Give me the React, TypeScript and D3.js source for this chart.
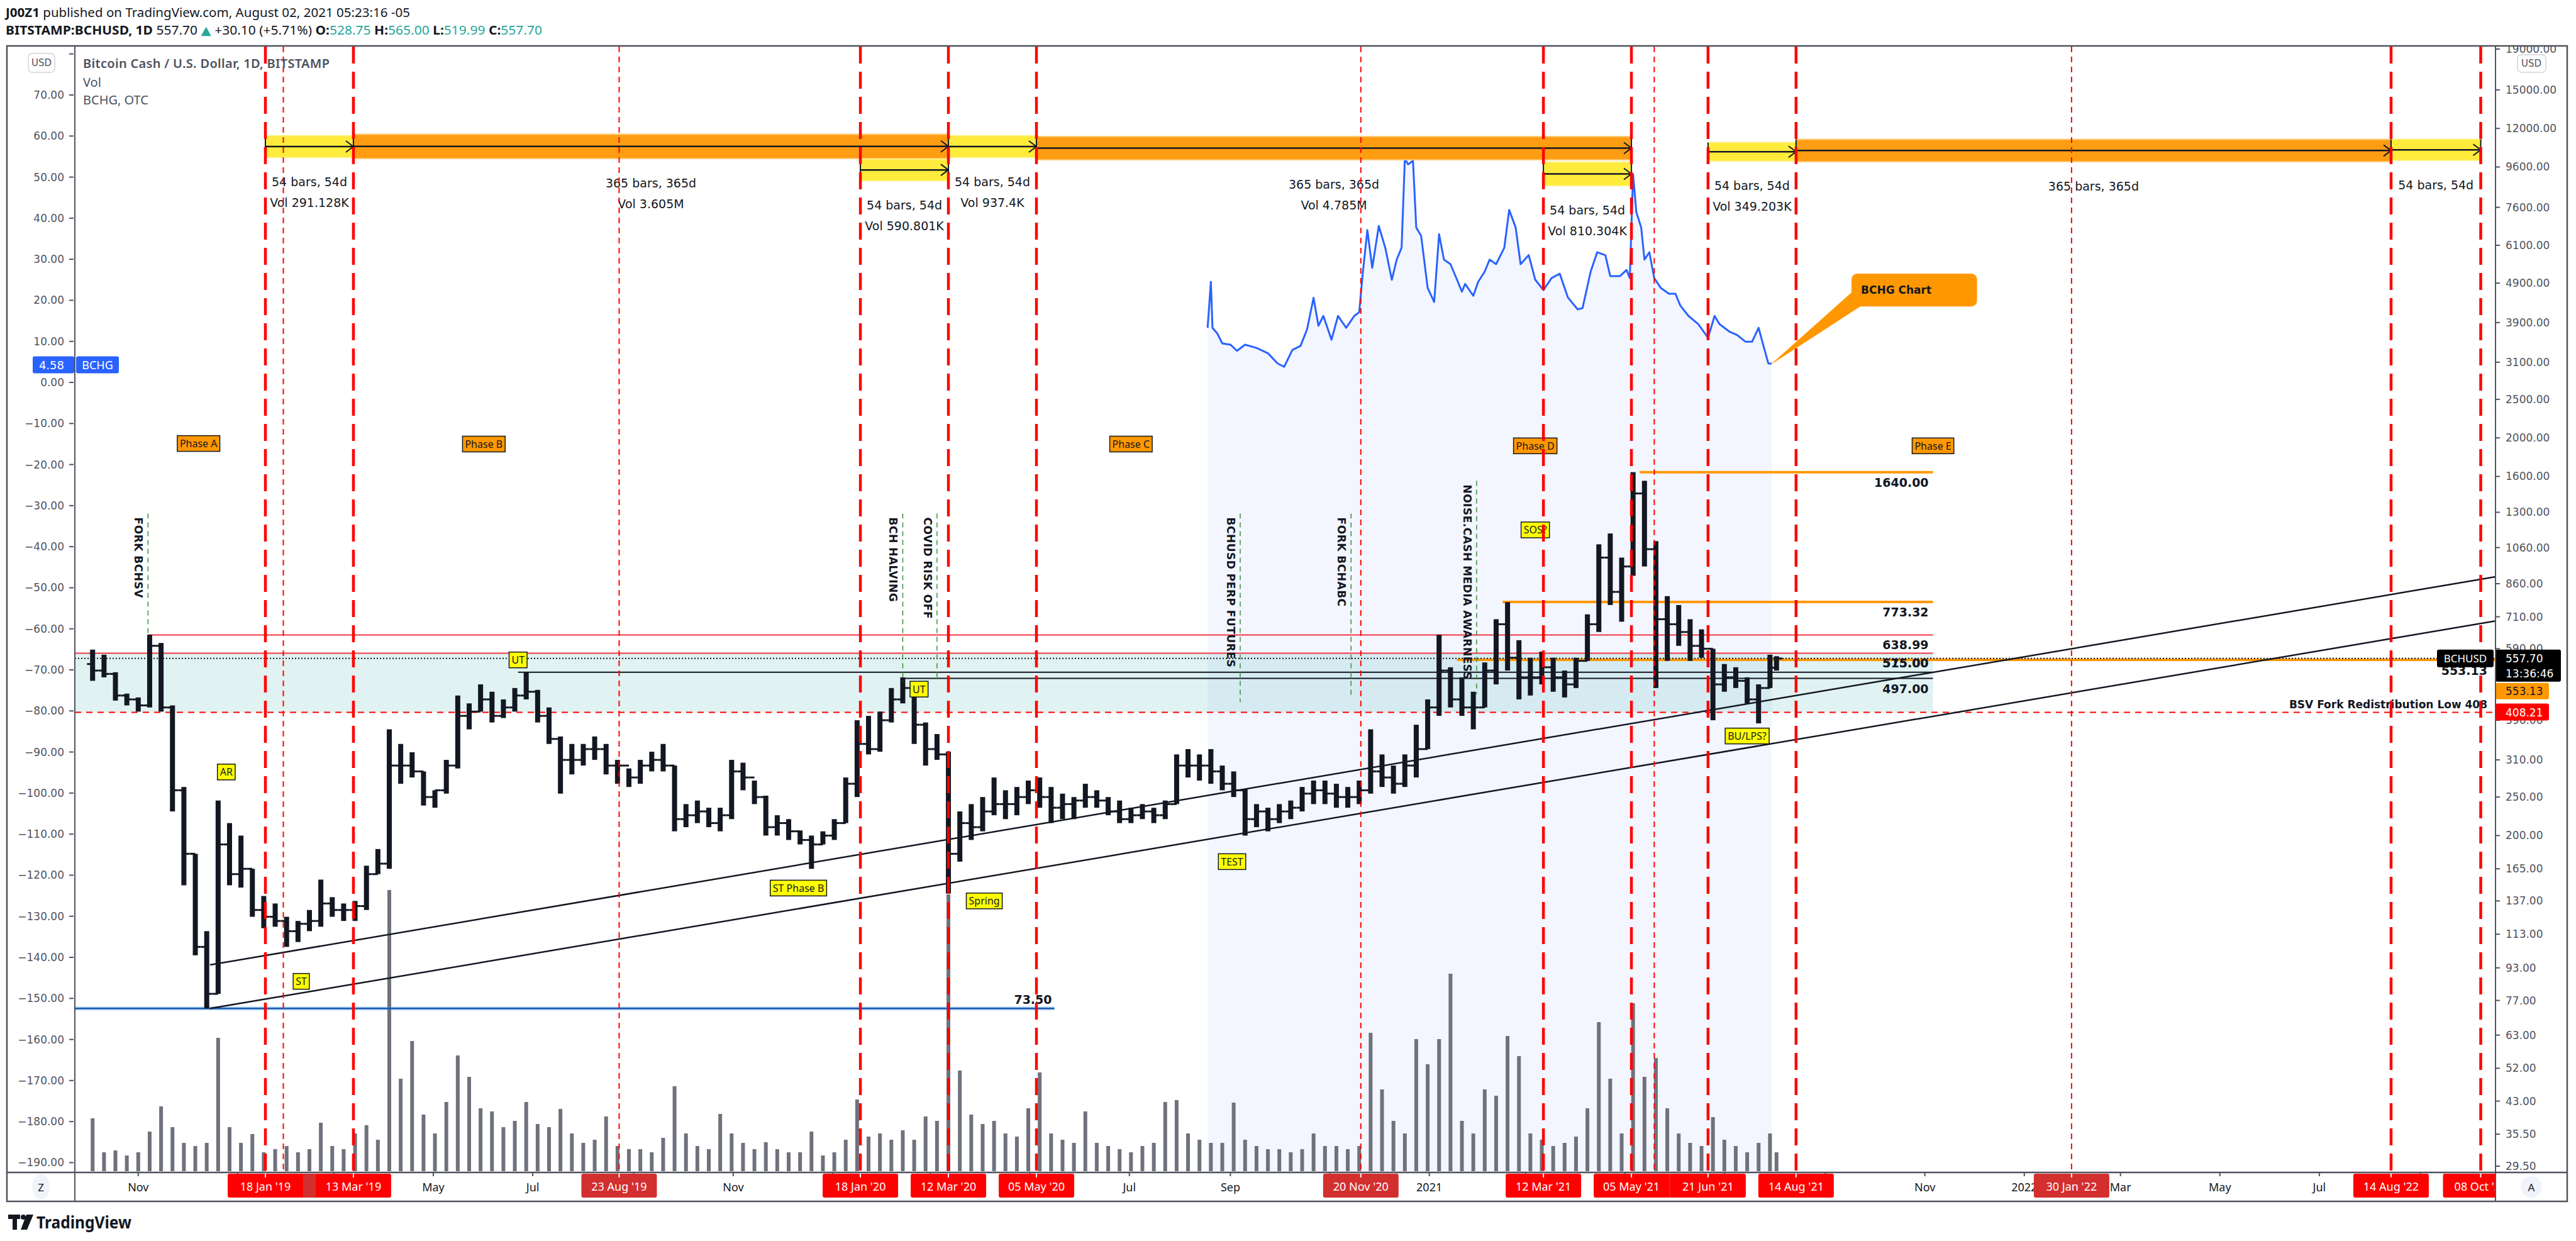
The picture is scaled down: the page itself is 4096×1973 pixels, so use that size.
import React, { useEffect, useRef } from 'react';
import * as d3 from 'd3';

const W = 4096;
const H = 1973;
const SANS = "'DejaVu Sans', Verdana, sans-serif";
const UI = "'Noto Sans', 'DejaVu Sans', sans-serif";

// weekly bars of BCHUSD, Mondays 2018-10-01 .. 2021-08-02 (the last one is the single day of Aug 2)
const weekHigh = [
  587, 570, 515, 455, 445, 640, 610, 425, 265, 180,
  115, 245, 215, 200, 165, 141, 135, 125, 122, 130,
  155, 140, 135, 137, 168, 185, 370, 340, 324, 290,
  260, 310, 450, 430, 480, 460, 440, 470, 516, 465,
  420, 355, 340, 340, 355, 340, 310, 295, 310, 325,
  340, 300, 240, 245, 235, 235, 310, 305, 275, 252,
  225, 220, 206, 200, 205, 220, 280, 390, 400, 410,
  470, 500, 475, 385, 360, 325, 230, 240, 250, 280,
  260, 265, 275, 280, 265, 255, 250, 270, 260, 250,
  245, 235, 240, 235, 245, 320, 330, 320, 330, 300,
  290, 262, 240, 235, 240, 245, 265, 275, 275, 270,
  265, 275, 370, 320, 300, 320, 380, 440, 640, 530,
  500, 460, 545, 700, 773, 620, 560, 580, 560, 520,
  560, 720, 1080, 1150, 1000, 1640, 1560, 1100, 800, 760,
  700, 660, 590, 540, 530, 500, 480, 570, 565,
];
const weekLow = [
  490, 500, 437, 425, 410, 420, 410, 230, 150, 100,
  73.5, 80, 150, 148, 125, 117, 118, 105, 108, 115,
  118, 125, 122, 122, 130, 160, 165, 270, 280, 238,
  235, 255, 295, 370, 410, 385, 395, 410, 440, 385,
  340, 255, 285, 300, 310, 285, 270, 265, 270, 290,
  290, 205, 210, 215, 210, 205, 220, 260, 240, 200,
  200, 195, 190, 165, 190, 195, 215, 250, 320, 325,
  385, 430, 340, 300, 310, 143, 172, 195, 205, 225,
  220, 225, 240, 235, 215, 220, 220, 235, 235, 225,
  215, 215, 220, 215, 220, 240, 280, 275, 270, 260,
  250, 200, 210, 205, 215, 220, 230, 240, 240, 235,
  235, 240, 255, 265, 255, 265, 280, 330, 400, 420,
  400, 370, 420, 480, 520, 440, 450, 480, 460, 445,
  470, 550, 650, 760, 690, 900, 950, 470, 550, 600,
  550, 560, 390, 460, 470, 430, 383, 470, 519.99,
];
const weekClose = [
  520, 510, 450, 440, 425, 600, 420, 260, 180, 105,
  80, 190, 160, 165, 130, 125, 122, 115, 120, 122,
  135, 130, 130, 133, 160, 170, 300, 300, 290, 250,
  260, 300, 400, 410, 440, 400, 420, 450, 460, 400,
  350, 310, 310, 330, 330, 300, 300, 280, 300, 310,
  300, 220, 225, 230, 215, 225, 290, 280, 250, 210,
  215, 205, 195, 190, 200, 215, 270, 340, 330, 390,
  440, 470, 380, 330, 320, 180, 215, 210, 230, 240,
  240, 250, 260, 250, 235, 240, 245, 250, 245, 230,
  220, 225, 230, 225, 240, 300, 300, 300, 290, 270,
  260, 220, 230, 220, 230, 235, 255, 260, 255, 250,
  250, 260, 290, 280, 270, 300, 330, 420, 520, 440,
  420, 420, 520, 680, 560, 500, 500, 530, 500, 480,
  550, 680, 1000, 820, 950, 1450, 1050, 700, 680, 650,
  600, 590, 480, 500, 490, 440, 470, 528.75, 557.7,
];
// largest daily volume inside each week (thousands)
const weekVolume = [
  84, 30, 33, 25, 30, 63, 103, 70, 45, 40,
  45, 212, 70, 45, 59, 30, 35, 40, 30, 35,
  77, 40, 35, 60, 73, 50, 447, 147, 207, 90,
  60, 110, 184, 150, 100, 95, 70, 80, 110, 75,
  70, 99, 60, 45, 50, 87, 40, 35, 35, 30,
  53, 135, 60, 40, 35, 91, 60, 45, 35, 46,
  35, 30, 30, 63, 25, 30, 50, 114, 55, 60,
  50, 65, 50, 87, 80, 440, 160, 90, 75, 80,
  60, 55, 100, 157, 60, 50, 45, 95, 45, 40,
  35, 30, 40, 45, 110, 113, 60, 50, 45, 45,
  109, 50, 40, 35, 35, 30, 35, 60, 40, 40,
  35, 40, 220, 130, 80, 60, 210, 170, 210, 314,
  80, 60, 130, 120, 215, 183, 60, 50, 40, 45,
  55, 100, 237, 147, 60, 267, 150, 180, 100, 60,
  45, 40, 86, 50, 40, 30, 45, 60, 30,
];

// BCHG (OTC) on the left scale
const bchgDates = [
  '2020-08-18', '2020-08-20', '2020-08-21', '2020-08-24', '2020-08-27', '2020-09-01', '2020-09-05', '2020-09-10',
  '2020-09-17', '2020-09-24', '2020-09-30', '2020-10-04', '2020-10-09', '2020-10-14', '2020-10-18', '2020-10-22',
  '2020-10-25', '2020-10-28', '2020-11-02', '2020-11-06', '2020-11-11', '2020-11-16', '2020-11-19', '2020-11-21',
  '2020-11-24', '2020-11-27', '2020-12-01', '2020-12-05', '2020-12-09', '2020-12-12', '2020-12-15', '2020-12-17',
  '2020-12-19', '2020-12-22', '2020-12-24', '2020-12-27', '2020-12-31', '2021-01-04', '2021-01-07', '2021-01-10',
  '2021-01-14', '2021-01-18', '2021-01-21', '2021-01-23', '2021-01-28', '2021-01-31', '2021-02-04', '2021-02-07',
  '2021-02-11', '2021-02-16', '2021-02-19', '2021-02-23', '2021-02-26', '2021-03-03', '2021-03-07', '2021-03-12',
  '2021-03-17', '2021-03-22', '2021-03-27', '2021-04-02', '2021-04-05', '2021-04-10', '2021-04-14', '2021-04-19',
  '2021-04-22', '2021-04-28', '2021-05-02', '2021-05-04', '2021-05-06', '2021-05-08', '2021-05-11', '2021-05-13',
  '2021-05-16', '2021-05-19', '2021-05-23', '2021-05-28', '2021-06-01', '2021-06-04', '2021-06-09', '2021-06-15',
  '2021-06-21', '2021-06-25', '2021-06-28', '2021-07-04', '2021-07-09', '2021-07-14', '2021-07-18', '2021-07-22',
  '2021-07-25', '2021-07-28', '2021-07-30',
];
const bchgValues = [
  13.3, 24.5, 13.3, 11.9, 9.5, 9.2, 7.7, 9.2,
  8.4, 7.1, 4.6, 3.8, 7.9, 8.9, 12.9, 20.6,
  13.8, 16.2, 10.4, 16.2, 13.3, 16.2, 17.1, 25.9,
  37.1, 27.9, 38.1, 32.8, 25.0, 29.9, 32.8, 54.5,
  53.1, 54.0, 37.7, 35.7, 23.0, 19.6, 36.1, 29.9,
  28.8, 25.0, 22.1, 24.0, 21.1, 24.5, 27.0, 29.9,
  28.8, 32.8, 42.0, 37.7, 28.8, 31.0, 25.0, 22.5,
  25.4, 26.5, 20.7, 17.8, 18.1, 27.0, 31.7, 31.0,
  25.9, 25.9, 27.4, 25.4, 50.7, 41.5, 37.7, 29.9,
  31.7, 25.4, 23.0, 21.6, 21.6, 18.7, 16.2, 14.2,
  10.9, 16.2, 14.2, 12.4, 11.5, 9.9, 9.9, 13.3,
  8.9, 4.6, 4.58,
];

const redDays = ['2019-01-18', '2019-03-13', '2020-01-18', '2020-03-12', '2020-05-05', '2021-03-12', '2021-05-05', '2021-06-21', '2021-08-14', '2022-08-14', '2022-10-08'];
const thinRedDays = ['2019-01-29', '2019-08-23', '2020-11-20', '2021-05-19', '2022-01-30'];

const durStart = ['2019-01-18', '2019-03-13', '2020-01-18', '2020-03-12', '2020-05-05', '2021-03-12', '2021-06-21', '2021-08-14', '2022-08-14'];
const durEnd = ['2019-03-13', '2020-03-12', '2020-03-12', '2020-05-05', '2021-05-05', '2021-05-05', '2021-08-14', '2022-08-14', '2022-10-08'];
const durTop = [11500, 11600, 10040, 11500, 11450, 9870, 11060, 11260, 11260];
const durBottom = [10150, 10080, 8870, 10150, 10010, 8620, 9940, 9900, 9980];
const durBars = [54, 365, 54, 54, 365, 54, 54, 365, 54];
const durVol = ['291.128K', '3.605M', '590.801K', '937.4K', '4.785M', '810.304K', '349.203K', '', ''];

const eventLabels = ['FORK BCHSV', 'BCH HALVING', 'COVID RISK OFF', 'BCHUSD PERP FUTURES', 'FORK BCHABC', 'NOISE.CASH MEDIA AWARNESS'];
const eventDates = ['2018-11-07', '2020-02-13', '2020-03-05', '2020-09-07', '2020-11-14', '2021-01-30'];
const eventTop = [1290, 1290, 1290, 1290, 1290, 1560];
const eventBottom = [640, 487, 500, 433, 443, 453];

const tagLabels = ['AR', 'ST', 'UT', 'UT', 'ST Phase B', 'Spring', 'TEST', 'SOS?', 'BU/LPS?'];
const tagDates = ['2018-12-25', '2019-02-09', '2019-06-22', '2020-02-23', '2019-12-11', '2020-04-03', '2020-09-02', '2021-03-07', '2021-07-15'];
const tagPrices = [289, 86, 553, 467, 147.6, 137, 172, 1174, 356];

const phaseLabels = ['Phase A', 'Phase B', 'Phase C', 'Phase D', 'Phase E'];
const phaseDates = ['2018-12-08', '2019-06-01', '2020-07-02', '2021-03-07', '2021-11-06'];
const phasePrices = [1936, 1930, 1930, 1910, 1910];

const levelPrices = [1640, 773.32, 638.99, 575, 515, 497];
const levelStarts = ['2021-05-10', '2021-02-15', '2018-11-07', '2018-09-01', '2019-06-22', '2020-02-13'];
const levelColors = ['#ff9800', '#ff9800', '#f23645', '#f23645', '#131722', '#131722'];
const levelEnd = '2021-11-06';

const trendDates = ['2018-12-15', '2022-10-17'];
const trendUpper = [94.6, 895];
const trendLower = [73.5, 693];

const leftTicks = d3.range(80, -191, -10);
const rightTicks = [19000, 15000, 12000, 9600, 7600, 6100, 4900, 3900, 3100, 2500, 2000, 1600, 1300, 1060, 860, 710, 590, 480, 390, 310, 250, 200, 165, 137, 113, 93, 77, 63, 52, 43, 35.5, 29.5];

const App: React.FC = () => {
  const ref = useRef<SVGSVGElement | null>(null);

  useEffect(() => {
    document.body.style.margin = '0';
    const svg = d3.select(ref.current);
    svg.selectAll('*').remove();
    svg.append('rect').attr('width', W).attr('height', H).attr('fill', '#ffffff');

    const paneL = 119, paneR = 3968, paneT = 74, paneB = 1864, frameB = 1910;
    const D = (s: string) => new Date(s);

    const x = d3.scaleUtc().domain([D('2019-01-18'), D('2022-10-08')]).range([422, 3944.5]);
    const yP = d3.scaleLog().domain([29.5, 19000]).range([1854, 78]);
    const yL = d3.scaleLinear().domain([0, 70]).range([608, 151]);
    const yV = d3.scaleLinear().domain([0, 500]).range([1862, 1362]);

    const txt = (g: any, xx: number, yy: number, s: string, size: number, fill = '#131722', anchor = 'start', weight: any = 'normal', family = SANS) =>
      g.append('text').attr('x', xx).attr('y', yy).attr('font-size', size).attr('fill', fill)
        .attr('text-anchor', anchor).attr('font-weight', weight).attr('font-family', family)
        .attr('dominant-baseline', 'central').text(s);

    const defs = svg.append('defs');
    defs.append('clipPath').attr('id', 'pane').append('rect')
      .attr('x', paneL).attr('y', paneT).attr('width', paneR - paneL).attr('height', paneB - paneT);
    defs.append('clipPath').attr('id', 'taxis').append('rect')
      .attr('x', paneL).attr('y', paneB).attr('width', paneR - paneL).attr('height', frameB - paneB);
    defs.append('clipPath').attr('id', 'raxis').append('rect')
      .attr('x', paneR).attr('y', paneT).attr('width', 120).attr('height', paneB - paneT);
    defs.append('clipPath').attr('id', 'laxis').append('rect')
      .attr('x', 12).attr('y', paneT).attr('width', paneL - 12).attr('height', paneB - paneT);

    const pane = svg.append('g').attr('clip-path', 'url(#pane)');

    // BCHG area fill
    const bchg = bchgDates.map((d, i) => ({ t: D(d), v: bchgValues[i] }));
    pane.append('path').datum(bchg)
      .attr('d', d3.area<any>().x((p: any) => x(p.t)).y0(paneB).y1((p: any) => yL(p.v)))
      .attr('fill', 'rgba(41,98,255,0.055)');

    // trading range box
    const boxEnd = x(D(levelEnd));
    pane.append('rect').attr('x', paneL).attr('y', yP(575)).attr('width', boxEnd - paneL)
      .attr('height', yP(408.21) - yP(575)).attr('fill', 'rgba(0,150,136,0.12)');

    // weekly bars
    const weeks = d3.utcMonday.range(D('2018-10-01'), D('2021-08-03'));
    const bars = weeks.map((w, i) => ({
      t: i === weeks.length - 1 ? w : d3.utcDay.offset(w, 3),
      o: i === 0 ? 540 : weekClose[i - 1],
      h: weekHigh[i], l: weekLow[i], c: weekClose[i], v: weekVolume[i],
    }));

    // volume
    pane.append('g').selectAll('rect').data(bars).enter().append('rect')
      .attr('x', (b: any) => x(b.t) - 3).attr('width', 6)
      .attr('y', (b: any) => yV(b.v)).attr('height', (b: any) => yV(0) - yV(b.v))
      .attr('fill', '#6f727c');

    // BSV low
    pane.append('line').attr('x1', paneL).attr('x2', paneR).attr('y1', yP(408.21)).attr('y2', yP(408.21))
      .attr('stroke', '#ff0000').attr('stroke-width', 2).attr('stroke-dasharray', '10 8');

    // horizontal levels
    levelPrices.forEach((p, i) => {
      const orange = levelColors[i] === '#ff9800';
      pane.append('line').attr('x1', x(D(levelStarts[i]))).attr('x2', boxEnd)
        .attr('y1', yP(p)).attr('y2', yP(p))
        .attr('stroke', levelColors[i]).attr('stroke-width', orange ? 4 : 2);
    });
    pane.append('line').attr('x1', x(D('2021-01-18'))).attr('x2', paneR)
      .attr('y1', yP(553.13)).attr('y2', yP(553.13)).attr('stroke', '#ff9800').attr('stroke-width', 4);
    pane.append('line').attr('x1', paneL).attr('x2', paneR)
      .attr('y1', yP(557.7)).attr('y2', yP(557.7)).attr('stroke', '#131722')
      .attr('stroke-width', 2).attr('stroke-dasharray', '2 3');

    // 73.50 low line
    const lowEnd = x(D('2020-05-16'));
    pane.append('line').attr('x1', paneL).attr('x2', lowEnd).attr('y1', yP(73.5)).attr('y2', yP(73.5))
      .attr('stroke', 'rgba(33,150,243,0.35)').attr('stroke-width', 6);
    pane.append('line').attr('x1', paneL).attr('x2', lowEnd).attr('y1', yP(73.5)).attr('y2', yP(73.5))
      .attr('stroke', '#1f55b0').attr('stroke-width', 2.5);

    // channel lines, extended to the price axis
    [trendUpper, trendLower].forEach((tl) => {
      const x1 = x(D(trendDates[0])), y1 = yP(tl[0]);
      const x2 = x(D(trendDates[1])), y2 = yP(tl[1]);
      const k = (y2 - y1) / (x2 - x1);
      pane.append('line').attr('x1', x1).attr('y1', y1).attr('x2', paneR).attr('y2', y1 + k * (paneR - x1))
        .attr('stroke', '#131722').attr('stroke-width', 2.5);
    });

    // OHLC bars (one per week)
    const pb = pane.append('g');
    bars.forEach((b: any) => {
      const cx = x(b.t);
      pb.append('rect').attr('x', cx - 4).attr('width', 8).attr('y', yP(b.h)).attr('height', Math.max(2, yP(b.l) - yP(b.h)))
        .attr('fill', '#131722');
      pb.append('line').attr('x1', cx - 9).attr('x2', cx).attr('y1', yP(b.o)).attr('y2', yP(b.o))
        .attr('stroke', '#131722').attr('stroke-width', 3);
      pb.append('line').attr('x1', cx).attr('x2', cx + 9).attr('y1', yP(b.c)).attr('y2', yP(b.c))
        .attr('stroke', '#131722').attr('stroke-width', 3);
    });

    // BCHG line
    pane.append('path').datum(bchg)
      .attr('d', d3.line<any>().x((p: any) => x(p.t)).y((p: any) => yL(p.v)))
      .attr('fill', 'none').attr('stroke', '#2962ff').attr('stroke-width', 3).attr('stroke-linejoin', 'round');

    // level labels (the 515 label sits on the 575 one, as drawn in the source)
    levelPrices.forEach((p) => {
      const at = p === 515 ? 575 : p;
      txt(pane, boxEnd - 7, yP(at) + 16, p.toFixed(2), 19, '#131722', 'end', 'bold');
    });
    txt(pane, paneR - 13, yP(553.13) + 17, '553.13', 19, '#131722', 'end', 'bold');
    txt(pane, paneR - 13, yP(408.21) - 13, 'BSV Fork Redistribution Low 408', 17, '#131722', 'end', 'bold');
    txt(pane, lowEnd - 4, yP(73.5) - 14, '73.50', 19, '#131722', 'end', 'bold');

    // date range bars
    durStart.forEach((s, i) => {
      const x1 = x(D(s)), x2 = x(D(durEnd[i]));
      const top = yP(durTop[i]), bot = yP(durBottom[i]);
      const mid = (top + bot) / 2;
      const big = durBars[i] === 365;
      const g = pane.append('g');
      g.append('rect').attr('x', x1).attr('y', top).attr('width', x2 - x1).attr('height', bot - top)
        .attr('fill', big ? '#ff9d12' : '#ffeb3b').attr('stroke', big ? '#ffc870' : '#fff176').attr('stroke-width', 2);
      g.append('line').attr('x1', x1).attr('x2', x2).attr('y1', mid).attr('y2', mid).attr('stroke', '#131722').attr('stroke-width', 2.5);
      g.append('path').attr('d', `M${x2 - 12},${mid - 9} L${x2},${mid} L${x2 - 12},${mid + 9}`)
        .attr('fill', 'none').attr('stroke', '#131722').attr('stroke-width', 2);
      [x1, x2].forEach((xx) => g.append('line').attr('x1', xx).attr('x2', xx).attr('y1', top).attr('y2', bot)
        .attr('stroke', '#131722').attr('stroke-width', 2));
      const cx = (x1 + x2) / 2;
      txt(g, cx, bot + 39, `${durBars[i]} bars, ${durBars[i]}d`, 19, '#131722', 'middle');
      if (durVol[i]) txt(g, cx, bot + 72, `Vol ${durVol[i]}`, 19, '#131722', 'middle');
    });

    // boxed labels
    const boxLabel = (xx: number, yy: number, s: string, fill: string) => {
      const g = pane.append('g');
      const tn = txt(g, xx, yy, s, 16, '#131722', 'middle', 'normal', UI);
      const w = (tn.node() as SVGTextElement).getComputedTextLength();
      g.insert('rect', 'text').attr('x', xx - w / 2 - 4).attr('y', yy - 12.5).attr('width', w + 8).attr('height', 25)
        .attr('fill', fill).attr('stroke', '#131722').attr('stroke-width', 1.5);
    };
    phaseLabels.forEach((s, i) => boxLabel(x(D(phaseDates[i])), yP(phasePrices[i]), s, '#ff9800'));
    tagLabels.forEach((s, i) => boxLabel(x(D(tagDates[i])), yP(tagPrices[i]), s, '#ffff00'));

    // events: vertical text + green dashed marker
    eventLabels.forEach((s, i) => {
      const ex = x(D(eventDates[i]));
      const y1 = yP(eventTop[i]), y2 = yP(eventBottom[i]);
      pane.append('line').attr('x1', ex).attr('x2', ex).attr('y1', y1).attr('y2', y2)
        .attr('stroke', '#388e3c').attr('stroke-width', 1.5).attr('stroke-dasharray', '8 6');
      pane.append('text').attr('transform', `translate(${ex - 21},${y1 + 6}) rotate(90)`)
        .attr('font-family', SANS).attr('font-weight', 'bold').attr('font-size', 17)
        .attr('fill', '#131722').attr('letter-spacing', 0.5).text(s);
    });

    // vertical time markers
    thinRedDays.forEach((d) => pane.append('line').attr('x1', x(D(d))).attr('x2', x(D(d)))
      .attr('y1', paneT).attr('y2', paneB).attr('stroke', '#ff0000').attr('stroke-width', 2).attr('stroke-dasharray', '9 7'));
    redDays.forEach((d) => pane.append('line').attr('x1', x(D(d))).attr('x2', x(D(d)))
      .attr('y1', paneT).attr('y2', paneB).attr('stroke', '#ff0000').attr('stroke-width', 4.5).attr('stroke-dasharray', '27 13'));

    // BCHG callout
    const tipX = x(D('2021-07-29')), tipY = yL(4.2);
    const cbx1 = x(D('2021-09-17')), cbx2 = x(D('2021-12-03'));
    const cby1 = yL(26.5), cby2 = yL(18.5);
    pane.append('path').attr('d', `M${cbx1},${cby1 + 30} L${cbx1 + 14},${cby2} L${tipX},${tipY} Z`).attr('fill', '#ff9800');
    pane.append('rect').attr('x', cbx1).attr('y', cby1).attr('width', cbx2 - cbx1).attr('height', cby2 - cby1)
      .attr('rx', 9).attr('fill', '#ff9800');
    txt(pane, cbx1 + 15, (cby1 + cby2) / 2, 'BCHG Chart', 17, '#131722', 'start', 'bold');

    // legend
    txt(svg, 132, 100, 'Bitcoin Cash / U.S. Dollar, 1D, BITSTAMP', 20, '#4c525e', 'start', 600, UI).attr('textLength', 392);
    txt(svg, 132, 130, 'Vol', 20, '#4c525e', 'start', 'normal', UI);
    txt(svg, 132, 158, 'BCHG, OTC', 20, '#4c525e', 'start', 'normal', UI);

    // left axis (BCHG scale)
    const la = svg.append('g').attr('clip-path', 'url(#laxis)');
    leftTicks.forEach((v) => {
      const yy = yL(v);
      la.append('line').attr('x1', 110).attr('x2', 117).attr('y1', yy).attr('y2', yy).attr('stroke', '#50535e').attr('stroke-width', 2);
      if (v === 80 || v === 0) return; // hidden behind the USD badge / BCHG price tag
      txt(la, 102, yy, (v < 0 ? '\u2212' : '') + Math.abs(v).toFixed(2), 17, '#50535e', 'end');
    });
    svg.append('rect').attr('x', 45).attr('y', 85).attr('width', 42).attr('height', 30).attr('rx', 6)
      .attr('fill', '#ffffff').attr('stroke', '#d1d4dc').attr('stroke-width', 1.5);
    txt(svg, 66, 100, 'USD', 15, '#50535e', 'middle');
    txt(la, 102, yL(0), '0.00', 17, '#50535e', 'end');
    const by = yL(4.58) + 2;
    svg.append('rect').attr('x', 52).attr('y', by - 13.5).attr('width', 66).attr('height', 27).attr('rx', 3).attr('fill', '#2962ff');
    txt(svg, 102, by, '4.58', 18, '#ffffff', 'end');
    svg.append('rect').attr('x', 121).attr('y', by - 13.5).attr('width', 68).attr('height', 27).attr('rx', 3).attr('fill', '#2962ff');
    txt(svg, 155, by, 'BCHG', 18, '#ffffff', 'middle', 'normal', UI);

    // right axis (price, log)
    const ra = svg.append('g').attr('clip-path', 'url(#raxis)');
    const cy = yP(557.7);
    const ry = yP(408.21);
    rightTicks.forEach((p) => {
      const yy = yP(p);
      ra.append('line').attr('x1', paneR).attr('x2', paneR + 7).attr('y1', yy).attr('y2', yy).attr('stroke', '#50535e').attr('stroke-width', 2);
      // 480 is fully covered by the price tags
      if (p === 480) return;
      txt(ra, paneR + 16, yy, p.toFixed(2), 17, '#50535e', 'start');
    });
    svg.append('rect').attr('x', 4003).attr('y', 87).attr('width', 45).attr('height', 28).attr('rx', 6)
      .attr('fill', '#ffffff').attr('stroke', '#d1d4dc').attr('stroke-width', 1.5);
    txt(svg, 4025, 101, 'USD', 15, '#50535e', 'middle');
    svg.append('rect').attr('x', 3875).attr('y', cy - 14).attr('width', 90).attr('height', 28).attr('rx', 3).attr('fill', '#000000');
    txt(svg, 3920, cy, 'BCHUSD', 17, '#ffffff', 'middle', 'normal', UI);
    svg.append('rect').attr('x', paneR).attr('y', cy - 14).attr('width', 104).attr('height', 51).attr('rx', 3).attr('fill', '#000000');
    txt(svg, paneR + 16, cy, '557.70', 17, '#ffffff');
    txt(svg, paneR + 16, cy + 24, '13:36:46', 17, '#ffffff');
    svg.append('rect').attr('x', paneR).attr('y', cy + 39).attr('width', 85).attr('height', 26).attr('rx', 3).attr('fill', '#ff9800');
    txt(svg, paneR + 16, cy + 52, '553.13', 17, '#131722');
    svg.append('rect').attr('x', paneR).attr('y', ry - 14).attr('width', 85).attr('height', 27).attr('rx', 3).attr('fill', '#ff0000');
    txt(svg, paneR + 16, ry, '408.21', 17, '#ffffff');

    // time axis: month labels, cut where a date tag covers them
    const ta = svg.append('g').attr('clip-path', 'url(#taxis)');
    const tagX = [...thinRedDays, ...redDays].map((d) => x(D(d)));
    const months = d3.utcMonth.every(2)!.range(D('2018-09-01'), D('2022-12-01'));
    months.forEach((m) => {
      const mx = x(m);
      ta.append('line').attr('x1', mx).attr('x2', mx).attr('y1', paneB).attr('y2', paneB + 6).attr('stroke', '#50535e').attr('stroke-width', 2);
      const s = m.getUTCMonth() === 0 ? d3.utcFormat('%Y')(m) : d3.utcFormat('%b')(m);
      const tn = txt(ta, mx, 1887, s, 18, '#131722', 'middle', 'normal', UI);
      const node = tn.node() as SVGTextElement;
      const w = node.getComputedTextLength();
      const left = mx - w / 2, right = mx + w / 2;
      const cover = tagX.filter((tx) => tx - 60 < right - 6 && tx + 60 > left + 6);
      if (!cover.length) return;
      const bl = Math.min(...cover.map((tx) => tx - 60));
      let n = s.length;
      while (n > 0 && left + node.getSubStringLength(0, n) > bl - 2) n--;
      if (n === 0) { tn.remove(); return; }
      tn.attr('text-anchor', 'start').attr('x', left).text(s.slice(0, n));
    });
    const fmt = d3.utcFormat("%d %b '%y");
    const brightX = redDays.map((d) => x(D(d)));
    const dateBox = (d: string, fill: string, withText: boolean) => {
      const dx = x(D(d));
      ta.append('rect').attr('x', dx - 60).attr('y', 1866).attr('width', 120).attr('height', 38).attr('rx', 3).attr('fill', fill);
      ta.append('line').attr('x1', dx).attr('x2', dx).attr('y1', 1866).attr('y2', 1872).attr('stroke', '#ffffff').attr('stroke-width', 2);
      if (withText) txt(ta, dx, 1886, fmt(D(d)), 18, '#ffffff', 'middle', 'normal', UI);
    };
    thinRedDays.forEach((d) => {
      const dx = x(D(d));
      const hidden = brightX.some((bx) => Math.abs(bx - dx) < 120);
      dateBox(d, '#d32f2f', !hidden);
    });
    redDays.forEach((d) => dateBox(d, '#ff0000', true));

    // frame
    const fr = svg.append('g').attr('stroke', '#50535e').attr('fill', 'none');
    fr.append('rect').attr('x', 11).attr('y', 73).attr('width', 4071).attr('height', frameB - 73).attr('stroke-width', 2.5);
    fr.append('line').attr('x1', paneL).attr('x2', paneL).attr('y1', 73).attr('y2', frameB).attr('stroke-width', 2);
    fr.append('line').attr('x1', paneR).attr('x2', paneR).attr('y1', 73).attr('y2', frameB).attr('stroke-width', 2);
    fr.append('line').attr('x1', 11).attr('x2', 4082).attr('y1', paneB).attr('y2', paneB).attr('stroke-width', 2.5);
    svg.append('ellipse').attr('cx', 65).attr('cy', 1887).attr('rx', 14).attr('ry', 20).attr('fill', '#f0f3fa');
    txt(svg, 65, 1887, 'Z', 17, '#131722', 'middle', 'normal', UI);
    svg.append('ellipse').attr('cx', 4025).attr('cy', 1887).attr('rx', 17).attr('ry', 17).attr('fill', '#f0f3fa');
    txt(svg, 4025, 1887, 'A', 17, '#131722', 'middle', 'normal', UI);

    // header
    const h1 = svg.append('text').attr('x', 9).attr('y', 27).attr('font-family', UI).attr('font-size', 19)
      .attr('fill', '#131722').attr('textLength', 643).attr('lengthAdjust', 'spacingAndGlyphs');
    h1.append('tspan').attr('font-weight', 'bold').text('J00Z1');
    h1.append('tspan').text(' published on TradingView.com, August 02, 2021 05:23:16 -05');
    const h2 = svg.append('text').attr('x', 9).attr('y', 55).attr('font-family', UI).attr('font-size', 19)
      .attr('fill', '#131722').attr('textLength', 853).attr('lengthAdjust', 'spacingAndGlyphs');
    const teal = '#26a69a';
    const parts: [string, string, string][] = [
      ['BITSTAMP:BCHUSD, 1D', 'bold', '#131722'], [' 557.70 ', 'normal', '#131722'], ['\u25B2', 'normal', teal],
      [' +30.10 (+5.71%) ', 'normal', '#131722'], ['O:', 'bold', '#131722'], ['528.75', 'normal', teal],
      [' H:', 'bold', '#131722'], ['565.00', 'normal', teal], [' L:', 'bold', '#131722'], ['519.99', 'normal', teal],
      [' C:', 'bold', '#131722'], ['557.70', 'normal', teal],
    ];
    parts.forEach(([s, w, c]) => h2.append('tspan').attr('font-weight', w).attr('fill', c).text(s));

    // footer logo
    const lg = svg.append('g').attr('fill', '#131722');
    lg.append('rect').attr('x', 13).attr('y', 1931).attr('width', 19).attr('height', 7);
    lg.append('rect').attr('x', 20).attr('y', 1931).attr('width', 7).attr('height', 24);
    lg.append('circle').attr('cx', 37).attr('cy', 1935).attr('r', 4);
    lg.append('path').attr('d', 'M42,1931 L53,1931 L43,1955 L33,1955 Z');
    svg.append('text').attr('x', 58).attr('y', 1953).attr('font-family', UI).attr('font-weight', 'bold')
      .attr('font-size', 26).attr('fill', '#131722').attr('textLength', 151).attr('lengthAdjust', 'spacingAndGlyphs')
      .text('TradingView');
  }, []);

  return (
    <svg ref={ref} width={W} height={H} style={{ position: 'absolute', left: 0, top: 0, display: 'block' }} />
  );
};

export default App;
